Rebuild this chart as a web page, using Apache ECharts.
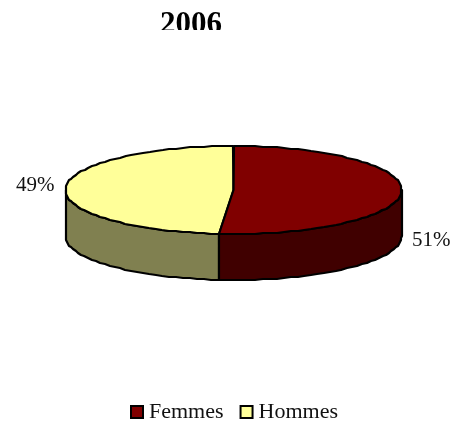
<!DOCTYPE html>
<html><head><meta charset="utf-8">
<style>html,body{margin:0;padding:0;background:#fff}#c{width:466px;height:421px}</style>
<script src="https://cdn.jsdelivr.net/npm/echarts@6/dist/echarts.min.js"></script></head>
<body><div id="c"></div>
<script>
const categories = ['Femmes', 'Hommes'];
const shares = [51.4, 48.6];
const topColors = ['#800000', '#FFFF99'];
const sideColors = ['#400000', '#808050'];
const titleText = '2006';

const G = {cx: 233.5, cy: 190, rx: 168, ry: 44, depth: 46, lw: 2.2};
const total = shares.reduce((a, b) => a + b, 0);
const pt = (deg, dy) => {
  const t = deg * Math.PI / 180;
  return [Math.round(G.cx + G.rx * Math.sin(t)), Math.round(G.cy - G.ry * Math.cos(t) + (dy || 0))];
};
const arc = (a, b, dy) => {
  const n = Math.max(2, Math.round(Math.abs(b - a) / 2.5));
  const out = [];
  for (let i = 0; i <= n; i++) out.push(pt(a + (b - a) * i / n, dy));
  return out;
};
const labelPos = [[412, 240], [16, 185]];

function makeSeries(idx) {
  return {
    type: 'custom', name: categories[idx], coordinateSystem: 'none',
    silent: true, clip: false, z: idx === 0 ? 3 : 2,
    itemStyle: {color: topColors[idx], borderColor: '#000', borderWidth: 1.5},
    data: [[shares[idx]]],
    renderItem: function (params, api) {
      const v = api.value(0);
      const before = shares.slice(0, idx).reduce((a, b) => a + b, 0);
      const a0 = before / total * 360, a1 = (before + v) / total * 360;
      const st = {stroke: '#000', lineWidth: G.lw, lineJoin: 'round'};
      const children = [];
      const s0 = Math.max(a0, 90), s1 = Math.min(a1, 270);
      if (s1 > s0) {
        const front = arc(s0, s1, 0);
        const back = arc(s1, s0, G.depth);
        children.push({type: 'polygon', shape: {points: front.concat(back)},
          style: Object.assign({fill: sideColors[idx]}, st)});
      }
      children.push({type: 'polygon', shape: {points: [[G.cx, G.cy]].concat(arc(a0, a1, 0))},
        style: Object.assign({fill: topColors[idx]}, st)});
      children.push({type: 'text', style: {
        text: Math.round(v) + '%', x: labelPos[idx][0], y: labelPos[idx][1],
        align: 'left', verticalAlign: 'middle',
        font: '21px "Liberation Serif"', fill: '#111'}});
      return {type: 'group', children};
    }
  };
}

const chart = echarts.init(document.getElementById('c'), null, {renderer: 'canvas'});
chart.setOption({
  animation: false,
  backgroundColor: '#fff',
  title: {text: titleText, left: 186, textAlign: 'center', top: 4,
    textStyle: {fontFamily: 'Liberation Serif', fontWeight: 'bold', fontSize: 31, color: '#000'}},
  legend: {
    data: categories, left: 125, top: 396, itemWidth: 12, itemHeight: 12, itemGap: 16,
    icon: 'rect', selectedMode: false,
    itemStyle: {borderColor: '#000', borderWidth: 2},
    textStyle: {fontFamily: 'Liberation Serif', fontSize: 22, color: '#111', padding: [0, 0, 0, 1]}
  },
  graphic: [{type: 'rect', z: 100, shape: {x: 140, y: 30, width: 100, height: 12}, style: {fill: '#fff'}}],
  series: categories.map((_, i) => makeSeries(i))
});
</script></body></html>
